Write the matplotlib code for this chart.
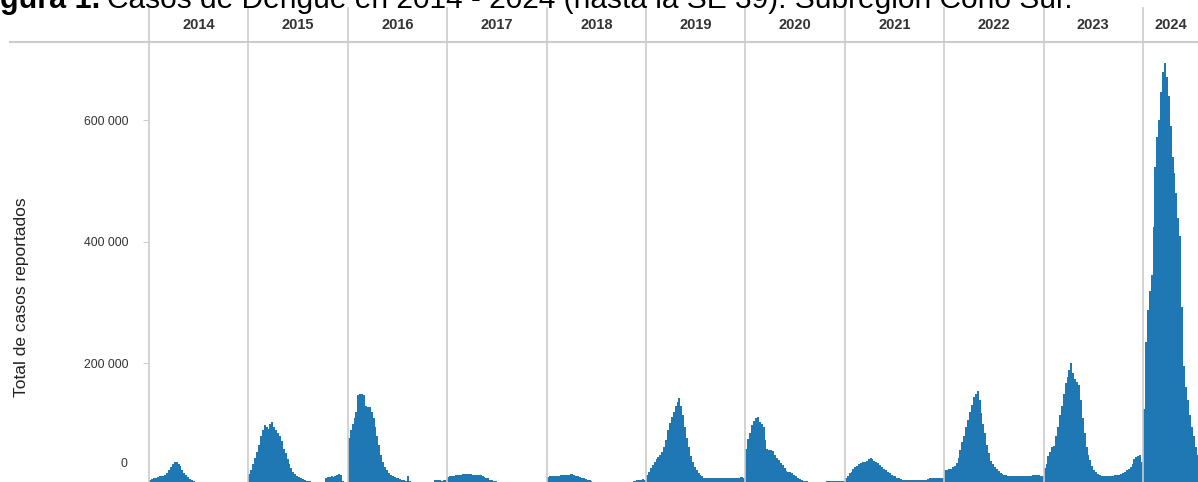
import numpy as np
import matplotlib
matplotlib.use("Agg")
import matplotlib.pyplot as plt
import matplotlib.transforms as mtransforms

plt.rcParams['font.family'] = ['Liberation Sans', 'DejaVu Sans']

# weekly dengue cases (thousands), Cono Sur, epi weeks 1..52 (2024 up to SE 39)
years = [2014, 2015, 2016, 2017, 2018, 2019, 2020, 2021, 2022, 2023, 2024]

cases_2014 = [9, 10, 11, 12, 13, 14, 15, 15, 16, 20, 25, 30, 34, 37, 37, 35, 31, 25, 20, 16,
              13, 10, 8, 7, 5, 4, 3, 3, 3, 3, 3, 3, 4, 5, 5, 5, 5, 5, 5, 5,
              5, 5, 5, 5, 5, 5, 5, 5, 4, 3, 3, 3]
cases_2015 = [18, 25, 35, 45, 55, 65, 80, 90, 98, 96, 92, 100, 104, 95, 90, 86, 80, 72, 60, 52,
              42, 35, 28, 22, 18, 15, 13, 11, 10, 8, 7, 6, 6, 5, 5, 4, 4, 4, 4, 5,
              12, 13, 13, 14, 13, 14, 16, 18, 17, 6, 5, 5]
cases_2016 = [77, 90, 100, 110, 120, 148, 150, 150, 148, 130, 128, 128, 120, 110, 95, 80, 65, 50, 38, 30,
              24, 20, 17, 14, 13, 12, 11, 10, 9, 8, 7, 14, 6, 5, 4, 4, 4, 4, 4, 4,
              4, 4, 4, 4, 5, 8, 8, 8, 8, 7, 8, 8]
cases_2017 = [13, 14, 15, 15, 16, 16, 17, 17, 18, 18, 18, 18, 18, 17, 17, 17, 16, 16, 15, 13,
              12, 11, 9, 8, 7, 6, 5, 4, 4, 4, 4, 4, 4, 4, 4, 4, 4, 4, 4, 4,
              4, 4, 4, 4, 4, 4, 4, 4, 4, 4, 4, 4]
cases_2018 = [13, 14, 15, 15, 15, 15, 15, 16, 16, 16, 16, 17, 18, 18, 17, 15, 14, 13, 12, 11,
              10, 9, 8, 7, 5, 4, 4, 4, 4, 4, 4, 4, 4, 4, 4, 4, 4, 4, 4, 4,
              4, 4, 4, 4, 5, 6, 7, 8, 8, 9, 10, 9]
cases_2019 = [16, 22, 28, 33, 37, 42, 46, 50, 55, 62, 74, 90, 102, 112, 120, 130, 136, 143, 130, 115,
              95, 78, 63, 48, 38, 30, 25, 20, 16, 14, 12, 11, 11, 11, 11, 11, 11, 11, 11, 11,
              11, 11, 11, 11, 11, 11, 11, 11, 12, 13, 13, 12]
cases_2020 = [60, 75, 85, 98, 105, 110, 112, 104, 100, 95, 74, 60, 58, 58, 56, 50, 45, 41, 36, 33,
              28, 23, 22, 21, 19, 16, 14, 12, 10, 8, 7, 6, 6, 5, 5, 5, 5, 5, 5, 5,
              5, 5, 6, 6, 6, 7, 7, 7, 7, 7, 7, 6]
cases_2021 = [11, 15, 19, 22, 26, 30, 32, 34, 36, 37, 38, 40, 42, 44, 42, 40, 38, 36, 33, 30,
              27, 25, 22, 19, 17, 15, 14, 12, 11, 10, 9, 8, 8, 8, 8, 8, 8, 8, 8, 8,
              8, 8, 9, 10, 11, 11, 11, 11, 12, 12, 12, 11]
cases_2022 = [24, 25, 26, 27, 29, 32, 36, 45, 58, 70, 80, 95, 107, 120, 132, 145, 150, 154, 140, 118,
              100, 85, 65, 52, 40, 35, 30, 27, 23, 20, 18, 17, 16, 15, 14, 14, 14, 14, 14, 14,
              14, 14, 14, 14, 15, 15, 16, 16, 16, 16, 15, 15]
cases_2023 = [28, 35, 47, 55, 63, 64, 80, 96, 115, 130, 150, 167, 178, 190, 200, 184, 175, 170, 165, 140,
              110, 85, 62, 50, 41, 32, 25, 21, 18, 16, 15, 15, 15, 15, 15, 15, 15, 16, 16, 17,
              18, 20, 22, 25, 27, 30, 35, 42, 46, 48, 49, 38]
cases_2024 = [125, 235, 288, 320, 346, 425, 524, 573, 601, 647, 680, 694, 672, 640, 590, 540, 513, 480, 440, 409,
              293, 195, 162, 140, 115, 96, 80, 63, 50, 40, 33, 28, 24, 21, 19, 17, 16, 15, 14]

cases = [cases_2014, cases_2015, cases_2016, cases_2017, cases_2018, cases_2019,
         cases_2020, cases_2021, cases_2022, cases_2023, cases_2024]

ytick_vals = [200000, 400000, 600000]
ytick_labels = ['200 000', '400 000', '600 000']

W, H = 1198, 482
WEEKS = 52
fig = plt.figure(figsize=(W / 100, H / 100), dpi=100)
ax = fig.add_axes([149 / W, 0, 1049 / W, 440 / H])

blue = '#1f77b4'
grid = '#cccccc'

for i, vals in enumerate(cases):
    w = np.arange(len(vals))
    ax.bar(i * WEEKS + w + 0.5, np.array(vals) * 1000, width=1.0, color=blue, linewidth=0, zorder=2)

x_right = 1049 / 99.4 * WEEKS
ax.set_xlim(0, x_right)
ax.set_ylim(4900, 729000)

for s in ax.spines.values():
    s.set_visible(False)
ax.set_xticks([])
ax.set_yticks(ytick_vals)
ax.set_yticklabels(ytick_labels)
ax.tick_params(axis='y', length=4.3, width=0.8, color=grid, pad=10.8,
               labelsize=8.8, labelcolor='#333333')
ax.text(-0.021, 0.041, '0', transform=ax.transAxes, ha='right', va='center',
        fontsize=8.8, color='#333333')

# year separators and header
trans = mtransforms.blended_transform_factory(ax.transData, ax.transAxes)
for i, yr in enumerate(years):
    ax.plot([i * WEEKS, i * WEEKS], [0, 1.077], transform=trans, color=grid, lw=1.2,
            clip_on=False, zorder=3)
    xc = i * WEEKS + WEEKS / 2 if i < len(years) - 1 else (i * WEEKS + x_right) / 2
    ax.text(xc, 1.0375, str(yr), transform=trans, ha='center', va='center',
            fontsize=10.5, fontweight='bold', color='#333333')
ax.plot([-0.1325, 1], [1, 1], transform=ax.transAxes, color=grid, lw=1.5, clip_on=False)

fig.text(22 / W, 1 - 297 / H, 'Total de casos reportados', rotation=90,
         ha='center', va='center', fontsize=12.5, color='#222222')

# title, cut off at the top of the image
t1 = fig.text(-27 / W, 1 - 8 / H, 'Figura 1.', fontsize=22, fontweight='bold',
              va='baseline', ha='left')
r = fig.canvas.get_renderer()
bb = t1.get_window_extent(renderer=r)
fig.text((bb.x1 + 7) / W, 1 - 8 / H,
         'Casos de Dengue en 2014 - 2024 (hasta la SE 39). Subregión Cono Sur.',
         fontsize=21.5, va='baseline', ha='left')

fig.savefig('out.png', dpi=100)
